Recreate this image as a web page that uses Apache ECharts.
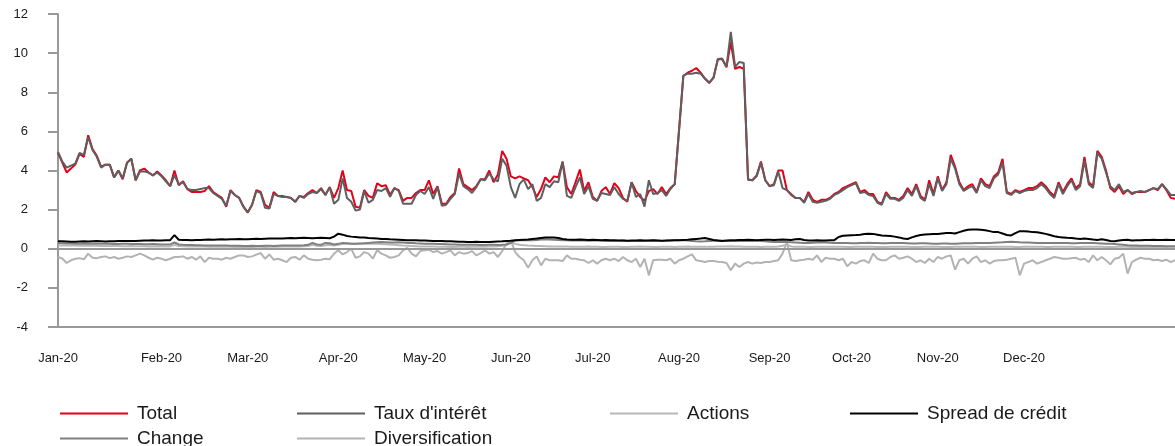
<!DOCTYPE html>
<html>
<head>
<meta charset="utf-8">
<script src="https://cdn.jsdelivr.net/npm/echarts@6/dist/echarts.min.js"></script>
<style>
html,body{margin:0;padding:0;background:#fff;}
#chart{width:1175px;height:446px;}
</style>
</head>
<body>
<div id="chart"></div>
<script>
const monthLabels = ['Jan-20','Feb-20','Mar-20','Apr-20','May-20','Jun-20','Jul-20','Aug-20','Sep-20','Oct-20','Nov-20','Dec-20'];
const labelIndex = [0,24,44,65,85,105,124,144,165,184,204,224];
const yTicks = {min:-4, max:12, step:2};

const total = [
4.9,4.4,3.9,4.1,4.3,4.85,4.7,5.8,5.1,4.75,
4.2,4.3,4.3,3.65,4.0,3.55,4.4,4.6,3.5,4.0,
4.1,3.9,3.75,3.95,3.75,3.5,3.2,4.0,3.25,3.45,
3.05,2.9,2.9,2.9,2.95,3.2,2.9,2.75,2.6,2.15,
3.0,2.75,2.6,2.15,1.85,2.25,3.0,2.9,2.25,2.1,
2.9,2.7,2.7,2.65,2.6,2.4,2.7,2.65,2.85,3.0,
2.85,3.1,2.75,3.15,2.6,3.1,4.0,3.0,2.95,2.15,
2.1,3.0,2.7,2.6,3.35,3.2,3.25,2.75,3.1,3.0,
2.45,2.6,2.6,2.85,3.0,3.0,3.5,2.8,3.2,2.3,
2.3,2.65,2.85,4.1,3.3,3.15,3.0,3.2,3.55,3.55,
4.0,3.4,3.8,5.0,4.6,3.7,3.6,3.7,3.6,3.5,
3.15,2.65,3.05,3.65,3.4,3.7,3.65,4.45,3.15,2.8,
3.4,4.05,2.95,3.4,2.65,2.45,2.95,3.15,2.8,3.35,
3.1,2.6,2.4,3.4,2.95,2.65,2.45,2.95,3.05,2.8,
3.15,2.8,3.1,3.3,
6.1,8.83,9.0,9.1,9.24,9.0,8.7,8.47,8.75,9.68,9.7,9.28,10.57,9.2,9.29,9.2,
3.53,3.5,3.75,4.46,3.5,3.2,3.3,4.0,4.0,3.0,2.75,2.6,
2.6,2.4,2.9,2.5,2.4,2.5,2.5,2.6,2.8,2.9,
3.1,3.2,3.3,3.4,2.9,3.0,2.8,2.8,2.4,2.3,
2.9,2.6,2.6,2.5,2.7,3.1,2.8,3.3,2.7,2.5,
3.5,2.8,3.7,3.0,3.4,4.8,4.2,3.4,3.0,3.2,
3.3,2.9,3.6,3.3,3.2,3.7,3.9,4.6,2.9,2.8,
3.0,2.9,3.0,3.1,3.1,3.2,3.4,3.2,2.9,2.7,
3.4,2.9,3.3,3.6,3.1,3.3,4.7,3.4,3.2,5.0,
4.7,4.0,3.1,2.9,3.2,2.8,3.0,2.8,2.9,2.9,
2.9,3.0,3.1,3.0,3.3,3.0,2.6,2.55
];

const tauxInteret = [
4.95,4.45,4.15,4.25,4.35,4.9,4.8,5.7,5.05,4.7,
4.15,4.3,4.3,3.65,4.0,3.6,4.4,4.6,3.5,3.95,
3.95,3.9,3.75,3.9,3.7,3.45,3.2,3.75,3.3,3.4,
3.05,3.0,3.0,3.05,3.1,3.1,2.85,2.7,2.55,2.2,
2.95,2.75,2.6,2.15,1.85,2.25,2.95,2.85,2.1,2.05,
2.8,2.7,2.65,2.65,2.6,2.4,2.7,2.6,2.8,2.9,
2.85,3.05,2.75,3.15,2.3,2.5,3.6,2.6,2.4,1.95,
2.0,2.95,2.35,2.5,3.0,2.95,3.1,2.65,3.1,2.95,
2.3,2.3,2.3,2.75,2.95,2.8,3.15,2.55,3.15,2.2,
2.25,2.55,2.8,3.85,3.2,3.05,2.85,3.15,3.55,3.5,
3.85,3.55,3.45,4.6,4.25,3.15,2.6,3.3,3.55,3.05,
3.3,2.45,2.6,3.3,3.15,3.45,3.4,4.45,2.7,2.6,
3.15,3.65,2.8,3.2,2.55,2.45,2.85,2.8,2.75,3.15,
2.8,2.55,2.45,3.4,2.65,2.8,2.15,3.5,2.8,2.85,
3.0,2.7,3.05,3.3,
6.0,8.85,8.95,8.95,9.0,8.95,8.7,8.5,8.75,9.7,9.72,9.3,11.08,9.3,9.55,9.5,
3.55,3.5,3.7,4.4,3.5,3.2,3.25,3.95,3.1,3.0,2.8,2.6,
2.6,2.35,2.8,2.4,2.35,2.4,2.45,2.55,2.75,2.85,
3.0,3.15,3.25,3.35,2.85,2.9,2.75,2.7,2.35,2.25,
2.8,2.55,2.55,2.45,2.6,3.0,2.7,3.2,2.6,2.45,
3.3,2.7,3.6,2.95,3.3,4.6,4.1,3.3,2.95,3.1,
3.2,2.85,3.5,3.2,3.1,3.6,3.8,4.4,2.85,2.75,
2.95,2.85,2.95,3.0,3.0,3.1,3.3,3.1,2.8,2.6,
3.3,2.8,3.2,3.5,3.0,3.2,4.5,3.3,3.1,4.9,
4.6,3.9,3.2,3.0,3.3,2.9,3.0,2.85,2.9,2.95,
2.9,3.0,3.1,3.05,3.3,3.05,2.75,2.75
];

const spreadCredit = [
0.38,0.38,0.37,0.36,0.36,0.37,0.38,0.37,0.38,0.39,0.38,0.37,0.38,0.38,0.39,0.4,0.4,0.39,0.4,0.41,0.42,0.42,0.43,0.42,0.42,0.43,0.44,
0.7,
0.46,0.45,0.45,0.44,0.45,0.45,0.46,0.47,0.46,0.47,0.48,0.47,0.48,0.49,0.5,0.49,0.48,0.5,0.51,0.5,0.51,0.52,0.53,0.52,0.53,0.54,0.55,0.54,0.55,0.56,0.55,0.54,0.55,0.56,0.55,0.54,
0.62,0.77,0.72,0.65,0.62,0.6,0.58,0.57,0.55,0.54,0.52,0.5,0.5,0.48,0.47,0.46,
0.45,0.44,0.44,0.43,0.42,0.42,0.41,0.4,0.4,0.39,0.38,0.38,0.37,0.36,0.36,0.35,0.35,0.36,0.35,0.34,0.35,0.36,0.37,0.38,0.4,0.41,
0.44,0.45,0.46,0.47,0.5,0.52,0.55,0.57,0.58,0.57,0.55,0.5,0.47,0.46,0.46,0.47,0.46,0.45,0.46,0.45,
0.44,0.45,0.44,0.43,0.42,0.42,0.41,0.42,0.42,0.43,0.42,0.42,0.43,0.42,0.41,0.42,0.42,0.43,0.44,0.45,
0.46,0.48,0.5,0.52,0.55,0.5,0.45,0.42,0.4,0.42,0.43,0.44,0.45,0.45,0.46,0.45,0.44,0.45,0.46,0.46,
0.45,0.46,0.47,0.46,0.45,0.48,0.5,0.45,0.42,0.42,0.43,0.42,0.42,0.43,0.44,
0.6,0.66,0.68,0.69,0.7,0.72,0.75,0.77,0.76,0.72,0.68,0.67,0.65,0.62,0.58,0.52,0.5,0.58,0.65,0.7,
0.73,0.74,0.75,0.76,0.78,0.8,0.8,0.78,0.85,0.92,0.97,0.98,0.98,0.97,0.95,0.9,0.85,0.85,0.78,0.7,
0.68,0.8,0.9,0.89,0.88,0.85,0.84,0.8,0.76,0.7,0.64,0.6,0.58,0.56,0.55,0.52,0.5,0.52,0.5,0.47,
0.45,0.48,0.45,0.4,0.38,0.42,0.45,0.46,0.42,0.43,0.44,0.45,0.45,0.46,0.45,0.45,0.46,0.45,0.45
];

const change = [
0.28,0.28,0.27,0.27,0.26,0.26,0.27,0.26,0.25,0.25,0.25,0.26,0.25,0.24,0.24,0.25,0.25,0.24,0.24,0.24,0.23,0.23,0.24,0.23,0.22,0.22,0.22,
0.32,
0.22,0.2,0.19,0.19,0.18,0.18,0.17,0.17,0.17,0.16,0.16,0.16,0.15,0.15,0.15,0.14,0.14,0.15,0.14,0.14,0.15,0.15,0.14,0.15,0.16,0.17,0.16,0.16,0.17,0.18,0.2,0.3,
0.22,0.2,0.3,0.28,0.22,0.25,0.3,0.28,0.26,0.25,0.27,0.28,0.3,0.32,0.33,0.34,0.33,0.32,0.32,0.33,
0.32,0.3,0.3,0.28,0.27,0.26,0.25,0.25,0.24,0.24,0.23,0.22,0.22,0.21,0.21,0.2,0.2,0.2,0.19,0.19,0.2,0.2,0.19,0.2,0.22,0.3,
0.42,0.44,0.45,0.44,0.43,0.45,0.47,0.48,0.47,0.46,0.45,0.44,0.43,0.42,0.42,0.43,0.42,0.41,0.42,0.43,
0.42,0.41,0.4,0.4,0.41,0.42,0.4,0.39,0.4,0.41,0.4,0.41,0.42,0.41,0.4,0.41,0.43,0.44,0.45,0.44,
0.42,0.4,0.38,0.37,0.38,0.4,0.41,0.42,0.41,0.4,0.39,0.4,0.41,0.4,0.39,0.4,0.42,0.4,0.38,0.36,
0.35,0.36,0.35,0.34,0.33,0.32,0.31,0.3,0.3,0.31,0.32,0.33,0.32,0.31,0.3,0.3,0.3,0.29,0.28,0.28,
0.29,0.3,0.31,0.3,0.29,0.28,0.28,0.29,0.3,0.3,
0.29,0.28,0.27,0.27,0.28,0.28,0.27,0.26,0.26,0.27,
0.27,0.26,0.26,0.27,0.28,0.28,0.28,0.29,0.3,0.3,
0.3,0.31,0.32,0.33,0.35,0.36,0.35,0.33,0.32,0.32,
0.31,0.3,0.3,0.3,0.29,0.29,0.3,0.3,0.29,0.28,
0.28,0.29,0.3,0.3,0.29,0.28,0.27,0.26,0.25,0.24,
0.22,0.2,0.18,0.17,0.16,0.15,0.15,0.15,0.14,0.14,
0.14,0.13,0.13,0.13
];

const actions = [
0.17,0.17,0.16,0.16,0.16,0.15,0.15,0.16,0.15,0.15,0.14,0.14,0.15,0.14,0.14,0.13,0.13,0.14,0.13,0.13,0.13,0.12,0.12,0.13,0.12,0.12,0.12,0.2,0.14,0.13,
0.12,0.12,0.11,0.11,0.11,0.1,0.1,0.1,0.11,0.1,0.1,0.09,0.09,0.1,0.09,0.09,0.1,0.1,0.09,0.1,0.11,0.1,0.11,0.12,0.12,0.11,0.12,0.13,0.14,0.2,
0.15,0.14,0.18,0.2,0.16,0.2,0.24,0.25,0.26,0.25,0.26,0.27,0.26,0.25,0.26,0.24,0.23,0.22,0.2,0.18,0.16,0.15,0.14,0.13,0.12,0.12,0.11,0.11,0.1,0.1,
0.1,0.09,0.09,0.1,0.1,0.09,0.1,0.1,0.11,0.1,0.11,0.12,0.13,0.15,0.2,0.3,0.25,0.2,0.18,0.16,0.15,0.14,0.14,0.13,0.12,0.12,0.11,0.11,0.11,0.1,
0.1,0.1,0.1,0.11,0.1,0.1,0.09,0.09,0.1,0.1,0.1,0.09,0.09,0.1,0.1,0.11,0.1,0.1,0.09,0.09,0.1,0.1,0.1,0.09,0.1,0.1,0.11,0.1,0.1,0.1,
0.1,0.1,0.1,0.11,0.12,0.12,0.13,0.12,0.11,0.1,0.1,0.1,0.1,0.09,0.1,0.1,0.1,0.11,0.15,0.2,0.12,0.1,0.1,0.1,0.09,0.09,0.1,0.1,0.1,0.1,
0.1,0.1,0.1,0.09,0.09,0.1,0.1,0.1,0.1,0.1,0.09,0.09,0.09,0.1,0.1,0.1,0.1,0.1,0.09,0.09,0.09,0.1,0.1,0.1,0.1,0.09,0.09,0.09,0.1,0.1,
0.1,0.1,0.1,0.1,0.09,0.09,0.1,0.1,0.1,0.1,0.1,0.1,0.09,0.09,0.1,0.1,0.1,0.1,0.1,0.09,0.09,0.1,0.1,0.1,0.1,0.1,0.09,0.09,0.1,0.1,
0.1,0.1,0.1,0.09,0.09,0.09,0.1,0.1,0.1,0.09,0.09,0.09,0.08,0.08,0.07,0.06,0.05,0.04,0.03,0.03
];

const diversification = [
-0.42,-0.5,-0.73,-0.59,-0.51,-0.48,-0.54,-0.25,-0.46,-0.48,
-0.42,-0.39,-0.48,-0.42,-0.51,-0.46,-0.39,-0.42,-0.34,-0.25,
-0.34,-0.46,-0.56,-0.46,-0.51,-0.59,-0.51,-0.42,-0.42,-0.39,
-0.51,-0.42,-0.56,-0.39,-0.68,-0.46,-0.51,-0.51,-0.56,-0.46,
-0.51,-0.42,-0.34,-0.34,-0.42,-0.39,-0.30,-0.22,-0.51,-0.29,
-0.56,-0.51,-0.59,-0.68,-0.46,-0.42,-0.56,-0.34,-0.51,-0.56,
-0.59,-0.56,-0.51,
-0.54,-0.25,-0.08,-0.29,-0.17,0.0,-0.46,-0.39,-0.17,-0.25,
-0.51,-0.08,-0.25,-0.34,-0.46,-0.42,-0.34,-0.08,0.05,-0.25,
-0.39,-0.12,-0.08,-0.05,-0.17,-0.12,-0.25,-0.17,-0.08,-0.34,
-0.17,-0.25,-0.22,-0.12,-0.34,-0.22,-0.08,-0.25,-0.17,-0.42,
-0.12,0.26,0.43,-0.17,-0.42,-0.59,-0.97,-0.59,-0.39,-0.85,
-0.51,-0.59,-0.59,-0.59,-0.63,-0.34,-0.51,-0.51,-0.56,-0.59,
-0.73,-0.59,-0.76,-0.59,
-0.51,-0.59,-0.51,-0.63,-0.42,-0.59,-0.68,-0.51,-0.93,-0.51,
-1.36,-0.59,-0.56,-0.56,-0.59,-0.51,-0.76,-0.59,-0.51,-0.39,
-0.29,-0.59,-0.63,-0.68,-0.63,-0.63,-0.66,-0.68,-0.73,-1.1,
-0.76,-0.93,-0.76,-0.68,-0.76,-0.7,-0.73,-0.68,-0.68,-0.63,
-0.59,-0.25,0.34,-0.59,-0.63,-0.59,-0.56,-0.51,-0.56,-0.34,
-0.68,-0.46,-0.51,-0.51,-0.59,-0.51,-0.9,-0.68,-0.76,-0.63,
-0.59,-0.73,-0.25,-0.51,-0.59,
-0.59,-0.42,-0.34,-0.51,-0.46,-0.39,-0.51,-0.68,-0.59,-0.73,
-0.51,-0.68,-0.42,-0.51,-0.39,-0.34,-1.07,-0.59,-0.51,-0.76,
-0.51,-0.39,-0.68,-0.59,-0.76,-0.63,-0.59,-0.59,-0.56,-0.51,
-0.46,-1.36,-0.76,-0.68,-0.59,-0.76,-0.68,-0.59,-0.51,-0.42,
-0.46,-0.51,-0.51,-0.48,-0.46,-0.56,-0.51,-0.68,-0.34,-0.59,
-0.42,-0.59,-0.80,-0.51,-0.46,-0.25,-1.27,-0.68,-0.56,-0.46,
-0.51,-0.51,-0.59,-0.56,-0.63,-0.56,-0.68,-0.59
];

const categories = total.map((_, i) => i);
const FONT = '"Liberation Sans", Arial, sans-serif';

function lineSeries(name, data, color, width, z) {
  return {
    name: name, type: 'line', data: data, symbol: 'none', showSymbol: false,
    color: color, z: z,
    lineStyle: {color: color, width: width},
    itemStyle: {color: color},
    emphasis: {disabled: true}
  };
}

const series = [
  Object.assign(lineSeries('Diversification', diversification, '#b3b3b3', 2, 2), {
    markLine: {
      silent: true, symbol: 'none', label: {show: false},
      lineStyle: {color: '#999999', width: 2, type: 'solid'},
      data: [{yAxis: 0}]
    }
  }),
  lineSeries('Actions', actions, '#b8b8b8', 2, 3),
  lineSeries('Change', change, '#808080', 2, 4),
  lineSeries('Spread de crédit', spreadCredit, '#000000', 2, 5),
  lineSeries('Total', total, '#e2001a', 2, 6),
  lineSeries("Taux d'intérêt", tauxInteret, '#5f5f5f', 2, 7)
];

function legendAt(name, left, top) {
  return {
    data: [name], left: left, top: top, orient: 'horizontal',
    icon: 'rect', itemWidth: 68, itemHeight: 2, itemGap: 0, padding: 0,
    selectedMode: false,
    textStyle: {fontSize: 19, color: '#1a1a1a', fontFamily: FONT, padding: [0, 0, 0, 4]}
  };
}

const chart = echarts.init(document.getElementById('chart'), null, {renderer: 'canvas'});
chart.setOption({
  animation: false,
  backgroundColor: '#ffffff',
  grid: {left: 58, right: 0, top: 14, bottom: 119, containLabel: false},
  legend: [
    legendAt('Total', 60, 404),
    legendAt("Taux d'intérêt", 297, 404),
    legendAt('Actions', 610, 404),
    legendAt('Spread de crédit', 850, 404),
    legendAt('Change', 60, 429),
    legendAt('Diversification', 297, 429)
  ],
  xAxis: {
    type: 'category', data: categories, boundaryGap: false,
    axisLine: {show: true, onZero: false, lineStyle: {color: '#999999', width: 2}},
    axisTick: {show: false},
    splitLine: {show: false},
    axisLabel: {
      interval: (index) => labelIndex.indexOf(index) !== -1,
      formatter: (value, index) => {
        const k = labelIndex.indexOf(index);
        return k === -1 ? '' : monthLabels[k];
      },
      margin: 25, fontSize: 13, color: '#1a1a1a', fontFamily: FONT
    }
  },
  yAxis: {
    type: 'value', min: yTicks.min, max: yTicks.max, interval: yTicks.step,
    axisLine: {show: true, lineStyle: {color: '#999999', width: 2}},
    axisTick: {show: true, length: 10, lineStyle: {color: '#999999', width: 2}},
    splitLine: {show: false},
    axisLabel: {margin: 30, fontSize: 13, color: '#1a1a1a', fontFamily: FONT}
  },
  series: series
});
</script>
</body>
</html>
